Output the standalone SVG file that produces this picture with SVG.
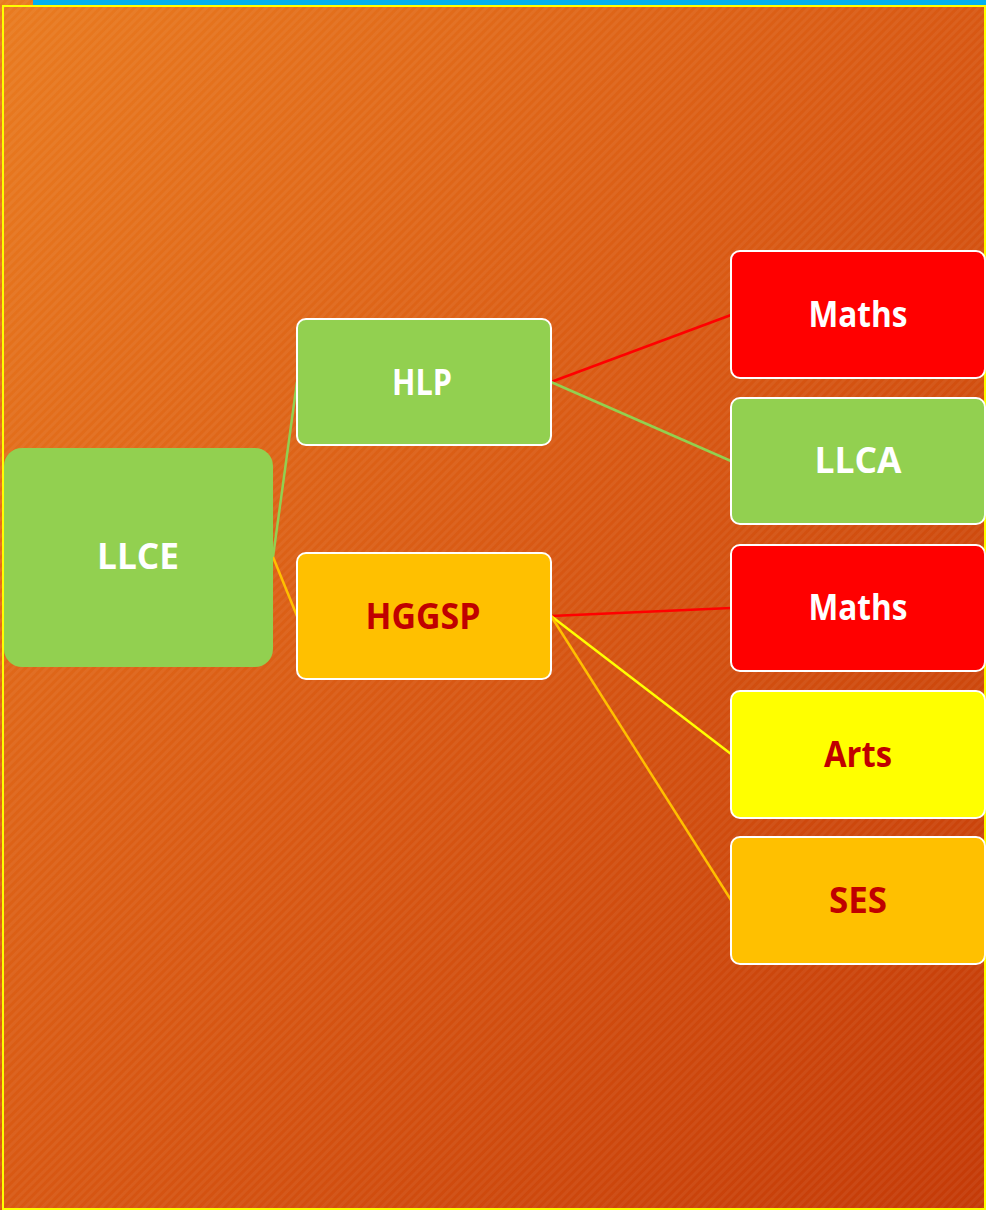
<svg xmlns="http://www.w3.org/2000/svg" width="986" height="1210" viewBox="0 0 986 1210">
<defs>
<linearGradient id="bg" x1="0" y1="0" x2="1" y2="1">
<stop offset="0" stop-color="#E97B20"/>
<stop offset="0.5" stop-color="#D85813"/>
<stop offset="1" stop-color="#C43A07"/>
</linearGradient>
<pattern id="stripes" width="6" height="6" patternUnits="userSpaceOnUse" patternTransform="rotate(45)">
<rect width="3" height="6" fill="#ffffff" opacity="0.05"/>
</pattern>
</defs>
<style>
.box{stroke:#ffffff;stroke-width:2}
.t{font-family:"Open Sans","Liberation Sans",sans-serif;font-weight:bold;font-size:36px;text-anchor:middle}
.w{fill:#ffffff}
.r{fill:#C00000}
.c{fill:none;stroke-width:2.5}
</style>
<rect x="0" y="0" width="986" height="1210" fill="url(#bg)"/>
<rect x="0" y="0" width="986" height="1210" fill="url(#stripes)"/>
<rect x="33" y="0" width="953" height="5" fill="#00B0F0"/>
<rect x="3" y="6" width="982" height="1203" fill="none" stroke="#FFFF00" stroke-width="2"/>
<g id="connectors">
<line class="c" x1="273" y1="557" x2="297" y2="382" stroke="#92D050"/>
<line class="c" x1="273" y1="557" x2="297" y2="616" stroke="#FFC000"/>
<line class="c" x1="551" y1="382" x2="731" y2="315" stroke="#FF0000"/>
<line class="c" x1="551" y1="382" x2="731" y2="461" stroke="#92D050"/>
<line class="c" x1="551" y1="616" x2="731" y2="608" stroke="#FF0000"/>
<line class="c" x1="551" y1="616" x2="731" y2="754" stroke="#FFFF00"/>
<line class="c" x1="551" y1="616" x2="731" y2="900" stroke="#FFC000"/>
</g>
<g id="llce">
<rect x="4" y="448" width="269" height="219" rx="18" fill="#92D050"/>
<text class="t w" x="138" y="569" textLength="82" lengthAdjust="spacingAndGlyphs">LLCE</text>
</g>
<g id="hlp">
<rect class="box" x="297" y="319" width="254" height="126" rx="9" fill="#92D050"/>
<text class="t w" x="422" y="395" textLength="60" lengthAdjust="spacingAndGlyphs">HLP</text>
</g>
<g id="hggsp">
<rect class="box" x="297" y="553" width="254" height="126" rx="9" fill="#FFC000"/>
<text class="t r" x="423" y="629" textLength="115" lengthAdjust="spacingAndGlyphs">HGGSP</text>
</g>
<g id="maths1">
<rect class="box" x="731" y="251" width="254" height="127" rx="9" fill="#FF0000"/>
<text class="t w" x="858" y="327" textLength="99" lengthAdjust="spacingAndGlyphs">Maths</text>
</g>
<g id="llca">
<rect class="box" x="731" y="398" width="254" height="126" rx="9" fill="#92D050"/>
<text class="t w" x="858" y="473" textLength="87" lengthAdjust="spacingAndGlyphs">LLCA</text>
</g>
<g id="maths2">
<rect class="box" x="731" y="545" width="254" height="126" rx="9" fill="#FF0000"/>
<text class="t w" x="858" y="620" textLength="99" lengthAdjust="spacingAndGlyphs">Maths</text>
</g>
<g id="arts">
<rect class="box" x="731" y="691" width="254" height="127" rx="9" fill="#FFFF00"/>
<text class="t r" x="858" y="767" textLength="68" lengthAdjust="spacingAndGlyphs">Arts</text>
</g>
<g id="ses">
<rect class="box" x="731" y="837" width="254" height="127" rx="9" fill="#FFC000"/>
<text class="t r" x="858" y="913" textLength="58" lengthAdjust="spacingAndGlyphs">SES</text>
</g>
</svg>
